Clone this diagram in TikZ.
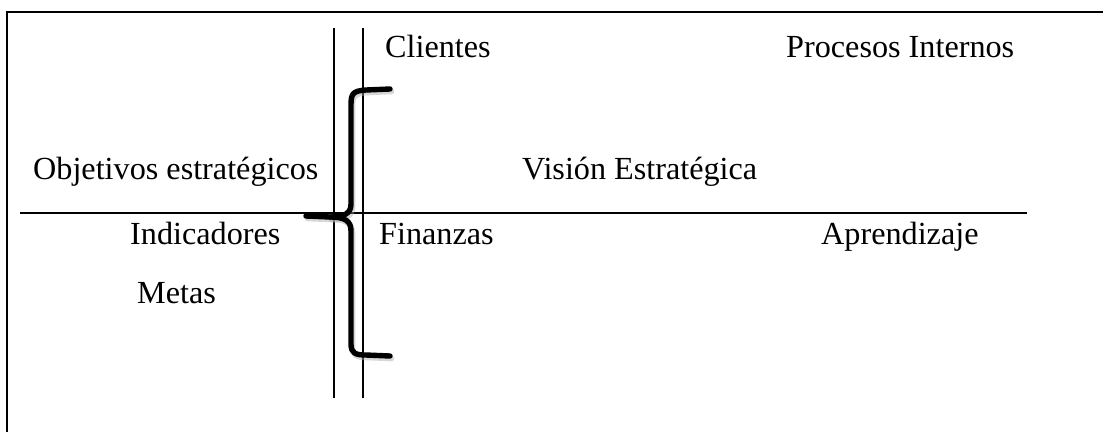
\documentclass[tikz,border=0pt]{standalone}
\usepackage{fontspec}
\setmainfont{Liberation Serif}
\begin{document}
\begin{tikzpicture}[x=1pt,y=-1pt,
  lbl/.style={anchor=base west,inner sep=0pt,font=\fontsize{32.2}{38}\selectfont},
  frameline/.style={line width=2pt},
  rule/.style={line width=1.3pt},
  divider/.style={line width=1.8pt},
  bracepath/.style={line width=5.4pt,line cap=round,line join=round},
  braceshadow/.style={line width=5.6pt,draw=black!35,opacity=0.45,line cap=round,line join=round}]
  \useasboundingbox (0,0) rectangle (1103,432);

  % open frame: top and left edges only
  \draw[frameline] (7,432) -- (7,12) -- (1103,12);

  % horizontal divider and the two vertical rules
  \draw[divider] (20,213) -- (1027,213);
  \draw[rule] (334,28) -- (334,398);
  \draw[rule] (363,28) -- (363,398);

  % curly brace (with a soft shadow)
  \begin{scope}[shift={(1.5,2.5)}]
    \draw[braceshadow] (390,89) -- (366,90) .. controls (352,91) and (351,94) .. (351,106)
      -- (351,204) .. controls (351,213) and (345,217) .. (330,217) -- (306,216);
    \draw[braceshadow] (330,217) .. controls (345,217) and (351,221) .. (351,231)
      -- (351,344) .. controls (351,353) and (355,355) .. (366,355) -- (390,356);
  \end{scope}
  \draw[bracepath] (390,89) -- (366,90) .. controls (352,91) and (351,94) .. (351,106)
    -- (351,204) .. controls (351,213) and (345,217) .. (330,217) -- (306,216);
  \draw[bracepath] (330,217) .. controls (345,217) and (351,221) .. (351,231)
    -- (351,344) .. controls (351,353) and (355,355) .. (366,355) -- (390,356);

  % labels
  \node[lbl] (clientes) at (385,57) {Clientes};
  \node[lbl] (procesos) at (786,57) {Procesos Internos};
  \node[lbl] (objetivos) at (33,179) {Objetivos estratégicos};
  \node[lbl] (vision) at (522,179) {Visión Estratégica};
  \node[lbl] (indicadores) at (130,244) {Indicadores};
  \node[lbl] (finanzas) at (379,244) {Finanzas};
  \node[lbl] (aprendizaje) at (821,244) {Aprendizaje};
  \node[lbl] (metas) at (137,303) {Metas};
\end{tikzpicture}
\end{document}
